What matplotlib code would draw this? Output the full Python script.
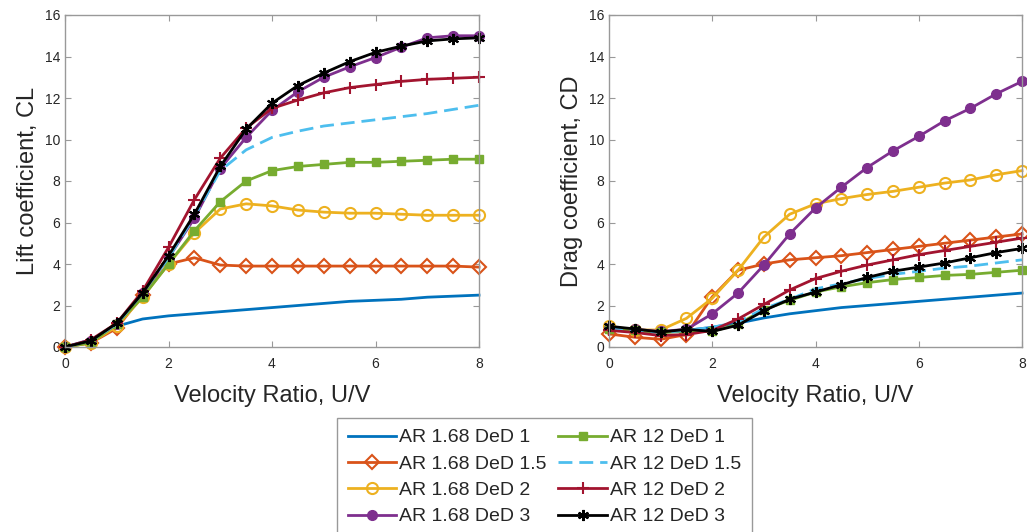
import numpy as np
import matplotlib.pyplot as plt

plt.rcParams['font.family'] = ['Liberation Sans', 'DejaVu Sans']

u = np.arange(0, 8.5, 0.5)

labels = ['AR 1.68 DeD 1', 'AR 1.68 DeD 1.5', 'AR 1.68 DeD 2', 'AR 1.68 DeD 3',
          'AR 12 DeD 1', 'AR 12 DeD 1.5', 'AR 12 DeD 2', 'AR 12 DeD 3']

# lift coefficient
cl_168_1 = [0, 0.35, 1.0, 1.35, 1.5, 1.6, 1.7, 1.8, 1.9, 2.0, 2.1, 2.2, 2.25, 2.3, 2.4, 2.45, 2.5]
cl_168_15 = [0, 0.2, 0.9, 2.5, 4.0, 4.3, 3.95, 3.9, 3.9, 3.9, 3.9, 3.9, 3.9, 3.9, 3.9, 3.9, 3.85]
cl_168_2 = [0, 0.2, 1.0, 2.4, 4.0, 5.5, 6.65, 6.9, 6.8, 6.6, 6.5, 6.45, 6.45, 6.4, 6.35, 6.35, 6.35]
cl_168_3 = [0, 0.3, 1.1, 2.6, 4.3, 6.2, 8.6, 10.1, 11.4, 12.3, 13.0, 13.5, 13.95, 14.45, 14.9, 15.0, 15.0]
cl_12_1 = [0, 0.2, 1.1, 2.4, 4.0, 5.6, 7.0, 8.0, 8.5, 8.7, 8.8, 8.9, 8.9, 8.95, 9.0, 9.05, 9.05]
cl_12_15 = [0, 0.3, 1.1, 2.6, 4.3, 6.3, 8.5, 9.5, 10.1, 10.4, 10.65, 10.8, 10.95, 11.1, 11.25, 11.45, 11.65]
cl_12_2 = [0, 0.35, 1.15, 2.7, 4.8, 7.1, 9.1, 10.55, 11.5, 11.9, 12.25, 12.5, 12.65, 12.8, 12.9, 12.95, 13.0]
cl_12_3 = [0, 0.3, 1.15, 2.6, 4.4, 6.4, 8.7, 10.5, 11.75, 12.6, 13.2, 13.75, 14.2, 14.5, 14.75, 14.85, 14.9]

# drag coefficient
cd_168_1 = [0.9, 0.8, 0.7, 0.8, 0.95, 1.15, 1.4, 1.6, 1.75, 1.9, 2.0, 2.1, 2.2, 2.3, 2.4, 2.5, 2.6]
cd_168_15 = [0.63, 0.47, 0.37, 0.6, 2.42, 3.7, 4.0, 4.2, 4.3, 4.4, 4.55, 4.7, 4.85, 5.0, 5.15, 5.3, 5.45]
cd_168_2 = [1.0, 0.82, 0.82, 1.38, 2.35, 3.7, 5.3, 6.4, 6.9, 7.15, 7.35, 7.5, 7.7, 7.9, 8.05, 8.3, 8.5]
cd_168_3 = [0.9, 0.85, 0.75, 0.85, 1.6, 2.6, 3.95, 5.45, 6.7, 7.7, 8.65, 9.45, 10.15, 10.9, 11.5, 12.2, 12.8]
cd_12_1 = [0.85, 0.8, 0.7, 0.75, 0.75, 1.1, 1.8, 2.25, 2.65, 2.9, 3.1, 3.25, 3.35, 3.45, 3.5, 3.6, 3.7]
cd_12_15 = [0.9, 0.8, 0.7, 0.8, 0.95, 1.2, 1.85, 2.3, 2.8, 3.05, 3.3, 3.5, 3.65, 3.8, 3.9, 4.05, 4.2]
cd_12_2 = [0.8, 0.7, 0.55, 0.6, 0.8, 1.35, 2.05, 2.75, 3.3, 3.65, 3.95, 4.2, 4.45, 4.65, 4.85, 5.05, 5.25]
cd_12_3 = [1.0, 0.87, 0.72, 0.85, 0.75, 1.05, 1.75, 2.3, 2.65, 3.0, 3.35, 3.65, 3.85, 4.05, 4.3, 4.55, 4.75]

cl_all = [cl_168_1, cl_168_15, cl_168_2, cl_168_3, cl_12_1, cl_12_15, cl_12_2, cl_12_3]
cd_all = [cd_168_1, cd_168_15, cd_168_2, cd_168_3, cd_12_1, cd_12_15, cd_12_2, cd_12_3]

styles = [
    dict(color='#0072BD', ls='-', marker=None),
    dict(color='#D95319', ls='-', marker='D', mfc='none', ms=7, mew=1.5),
    dict(color='#EDB120', ls='-', marker='o', mfc='none', ms=8, mew=1.5),
    dict(color='#7E2F8E', ls='-', marker='o', ms=7),
    dict(color='#77AC30', ls='-', marker='s', ms=6),
    dict(color='#4DBEEE', ls=(0, (5, 2.5)), marker=None),
    dict(color='#A2142F', ls='-', marker='+', ms=9, mew=1.5),
    dict(color='black', ls='-', marker=(6, 2, 0), ms=8, mew=1.5),
]

fig = plt.figure(figsize=(10.27, 5.32), dpi=100)
ax1 = fig.add_axes([65/1027, 1-347/532, 414/1027, 332/532])
ax2 = fig.add_axes([609/1027, 1-347/532, 413/1027, 332/532])

lines = []
for ax, data in [(ax1, cl_all), (ax2, cd_all)]:
    for y, st, lab in zip(data, styles, labels):
        ln, = ax.plot(u, y, lw=2, label=lab, clip_on=False, **st)
        if ax is ax1:
            lines.append(ln)
    ax.set_xlim(0, 8)
    ax.set_ylim(0, 16)
    ax.set_xticks(range(0, 9, 2))
    ax.set_yticks(range(0, 17, 2))
    ax.tick_params(direction='in', top=True, right=True, labelsize=10,
                   colors='#262626', length=4, width=0.8)
    ax.tick_params(axis='x', pad=7)
    ax.tick_params(axis='both', color='#999999')
    for sp in ax.spines.values():
        sp.set_color('#999999')
        sp.set_linewidth(1)
    ax.set_xlabel('Velocity Ratio, U/V', fontsize=17, color='#262626', labelpad=10)

ax1.set_ylabel('Lift coefficient, CL', fontsize=17, color='#262626', labelpad=4)
ax2.set_ylabel('Drag coefficient, CD', fontsize=17, color='#262626', labelpad=4)

leg = fig.legend(lines, labels, ncol=2, loc='upper left',
                 bbox_to_anchor=(337/1027, 1-418/532), borderaxespad=0,
                 fontsize=14, handlelength=2.5, columnspacing=0.6,
                 handletextpad=0.15, labelspacing=0.45, borderpad=0.55,
                 fancybox=False, framealpha=1)
leg.get_frame().set_edgecolor('#999999')
leg.get_frame().set_linewidth(1)
for t in leg.get_texts():
    t.set_color('#262626')

fig.savefig('out.png', dpi=100)
